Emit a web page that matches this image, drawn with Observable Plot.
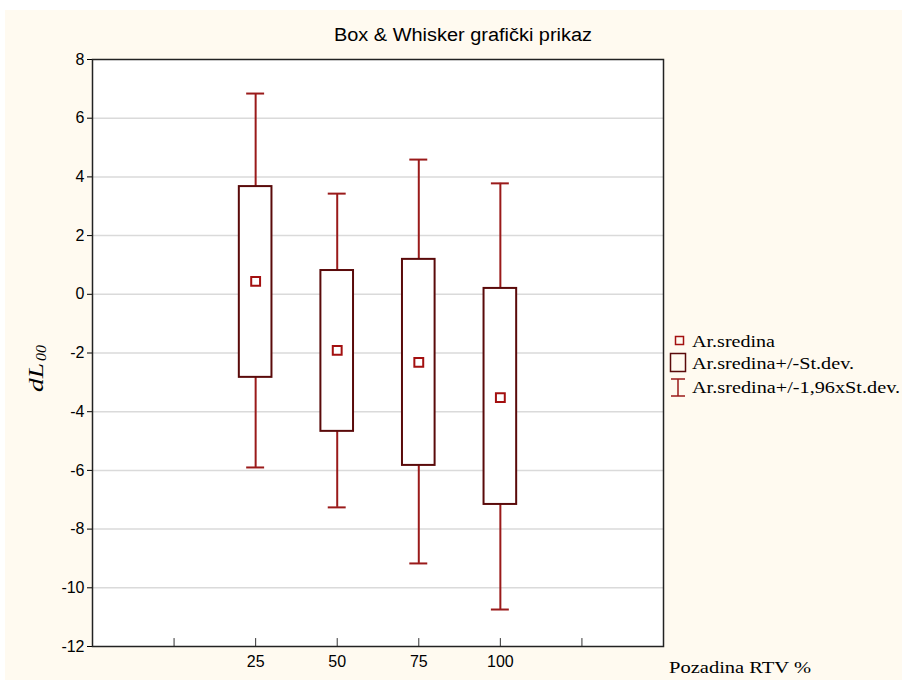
<!DOCTYPE html>
<html>
<head>
<meta charset="utf-8">
<script src="https://cdn.jsdelivr.net/npm/d3@7"></script>
<script src="https://cdn.jsdelivr.net/npm/@observablehq/plot@0.6"></script>
<style>
  html, body { margin: 0; padding: 0; background: #ffffff; }
  #chart { position: absolute; left: 5px; top: 10px; width: 897px; height: 670px; background: #fffaf0; }
  #chart svg g[aria-label="y-axis tick label"] text, #chart svg g[aria-label="x-axis tick label"] text { font-size: 16px; }
</style>
</head>
<body>
<div id="chart"></div>
<script>
const categories = ["25", "50", "75", "100"];
const means = [0.44, -1.91, -2.32, -3.52];
const boxHigh = [3.67, 0.81, 1.19, 0.2];
const boxLow = [-2.83, -4.67, -5.83, -7.16];
const whiskerHigh = [6.84, 3.43, 4.59, 3.78];
const whiskerLow = [-5.9, -7.26, -9.17, -10.74];
const yTicks = [-12, -10, -8, -6, -4, -2, 0, 2, 4, 6, 8];
const xTickPositions = [1, 2, 3, 4, 5, 6];
const legendLabels = ["Ar.sredina", "Ar.sredina+/-St.dev.", "Ar.sredina+/-1,96xSt.dev."];

const rows = categories.map((c, i) => ({
  cat: c, pos: i + 2, mean: means[i],
  boxHigh: boxHigh[i], boxLow: boxLow[i],
  whiskerHigh: whiskerHigh[i], whiskerLow: whiskerLow[i]
}));

const boxColor = "#5a0a0a";
const whiskerColor = "#9a1a1a";
const meanColor = "#a31010";

const svg = Plot.plot({
  width: 897,
  height: 670,
  marginLeft: 87,
  marginTop: 49,
  marginRight: 239,
  marginBottom: 34,
  style: { background: "transparent", fontFamily: "'Liberation Sans', Arial, sans-serif", fontSize: "16px", color: "#000" },
  x: { domain: [0, 7] },
  y: { domain: [-12, 8] },
  marks: [
    Plot.frame({ fill: "white" }),
    Plot.ruleY(yTicks.filter(d => d > -12 && d < 8), { stroke: "#dadada", strokeWidth: 1.5 }),
    Plot.axisY({ ticks: yTicks, tickSize: 5, tickPadding: 3, label: null, fontSize: 16, tickFormat: d => String(d) }),
    Plot.axisX({ ticks: xTickPositions, tickSize: 0, tickPadding: 9, label: null, fontSize: 16,
      tickFormat: d => (d >= 2 && d <= 5 ? categories[d - 2] : "") }),
    Plot.ruleX(xTickPositions, { y1: -12, y2: -11.73, stroke: "#333" }),
    Plot.ruleX(rows, { x: "pos", y1: "boxHigh", y2: "whiskerHigh", stroke: whiskerColor, strokeWidth: 2 }),
    Plot.ruleX(rows, { x: "pos", y1: "whiskerLow", y2: "boxLow", stroke: whiskerColor, strokeWidth: 2 }),
    Plot.ruleY(rows, { y: "whiskerHigh", x1: d => d.pos - 0.11, x2: d => d.pos + 0.11, stroke: whiskerColor, strokeWidth: 2 }),
    Plot.ruleY(rows, { y: "whiskerLow", x1: d => d.pos - 0.11, x2: d => d.pos + 0.11, stroke: whiskerColor, strokeWidth: 2 }),
    Plot.rect(rows, { x1: d => d.pos - 0.2, x2: d => d.pos + 0.2, y1: "boxLow", y2: "boxHigh", fill: "white", stroke: boxColor, strokeWidth: 2 }),
    Plot.dot(rows, { x: "pos", y: "mean", symbol: "square", r: 5, stroke: meanColor, strokeWidth: 2, fill: "none" }),
    Plot.frame({ stroke: "#222", strokeWidth: 1.5 })
  ]
});

document.getElementById("chart").appendChild(svg);

const s = d3.select(svg);
const sans = "'Liberation Sans', Arial, sans-serif";
const serif = "'Liberation Serif', 'Times New Roman', serif";
// Title
s.append("text").attr("x", 458).attr("y", 31).attr("text-anchor", "middle")
  .style("font-family", sans).style("font-size", "18px").attr("fill", "#000")
  .attr("textLength", 258).attr("lengthAdjust", "spacingAndGlyphs")
  .text("Box & Whisker grafički prikaz");
// Y label (rotated)
const yl = s.append("g").attr("transform", "translate(38,358) rotate(-90)");
yl.append("text").attr("x", -24).attr("y", 0).attr("text-anchor", "start")
  .style("font-family", serif).style("font-style", "italic").style("font-size", "21px").attr("fill", "#000")
  .attr("textLength", 29).attr("lengthAdjust", "spacingAndGlyphs").text("dL");
yl.append("text").attr("x", 7).attr("y", 3).attr("text-anchor", "start")
  .style("font-family", serif).style("font-style", "italic").style("font-size", "14px").attr("fill", "#000")
  .attr("textLength", 16).attr("lengthAdjust", "spacingAndGlyphs").text("00");
// X label
s.append("text").attr("x", 664).attr("y", 663).attr("text-anchor", "start")
  .style("font-family", serif).style("font-size", "17px").attr("fill", "#000")
  .attr("textLength", 142).attr("lengthAdjust", "spacingAndGlyphs")
  .text("Pozadina RTV %");
// Legend
const lg = s.append("g");
lg.append("rect").attr("x", 670.5).attr("y", 326.5).attr("width", 8).attr("height", 8).attr("fill", "none").attr("stroke", meanColor).attr("stroke-width", 1.5);
lg.append("rect").attr("x", 665.5).attr("y", 343.5).attr("width", 15).attr("height", 18).attr("fill", "none").attr("stroke", boxColor).attr("stroke-width", 1.5);
lg.append("line").attr("x1", 673).attr("x2", 673).attr("y1", 369).attr("y2", 386).attr("stroke", whiskerColor).attr("stroke-width", 1.5);
lg.append("line").attr("x1", 666).attr("x2", 680).attr("y1", 369).attr("y2", 369).attr("stroke", whiskerColor).attr("stroke-width", 1.5);
lg.append("line").attr("x1", 666).attr("x2", 680).attr("y1", 386).attr("y2", 386).attr("stroke", whiskerColor).attr("stroke-width", 1.5);
const legendY = [337, 359, 383];
const legendW = [83, 162, 208];
legendLabels.forEach((t, i) => {
  lg.append("text").attr("x", 687).attr("y", legendY[i]).attr("text-anchor", "start")
    .style("font-family", serif).style("font-size", "17px").attr("fill", "#000")
    .attr("textLength", legendW[i]).attr("lengthAdjust", "spacingAndGlyphs").text(t);
});
</script>
</body>
</html>
